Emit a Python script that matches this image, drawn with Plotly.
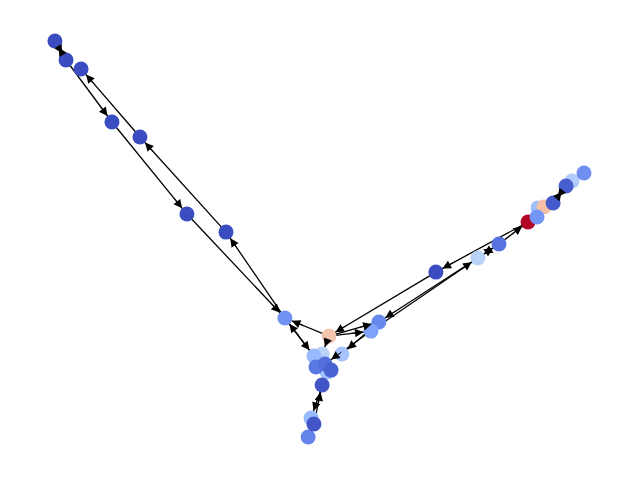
import math
import plotly.graph_objects as go

# node layout (drawing order: later nodes sit on top)
names = ["A", "B", "C", "D", "E", "F", "G", "H", "P", "Q", "R", "S",
         "T2", "T", "X", "U", "V", "W", "Y", "AB", "Z", "AA",
         "K", "L", "M", "N", "O2", "PE", "O", "P2", "R2", "Q2", "S2"]
x_pos = [-1.004, -0.962, -0.905, -0.788, -0.682, -0.504, -0.356, -0.133, 0.034, 0.223, 0.193, 0.083,
         0.008, -0.023, 0.027, -0.015, 0.019, 0.042, 0.008, -0.045, -0.034, -0.023,
         0.439, 0.598, 0.678, 0.788, 0.826, 0.848, 0.822, 0.883, 0.955, 0.932, 1.000]
y_pos = [1.005, 0.909, 0.864, 0.596, 0.520, 0.131, 0.040, -0.394, -0.485, -0.414, -0.460, -0.576,
         -0.576, -0.586, -0.667, -0.641, -0.626, -0.657, -0.732, -0.995, -0.899, -0.929,
         -0.162, -0.091, -0.020, 0.091, 0.162, 0.167, 0.116, 0.187, 0.298, 0.273, 0.338]
node_value = [0.0, 0.0, 0.0, 0.0, 0.0, 0.0, 0.0, 0.17, 0.62, 0.14, 0.21, 0.32,
              0.38, 0.28, 0.30, 0.10, 0.08, 0.05, 0.02, 0.13, 0.28, 0.02,
              0.0, 0.38, 0.09, 1.0, 0.30, 0.64, 0.18, 0.03, 0.35, 0.04, 0.16]

edges = [("B", "A"), ("A", "B"), ("B", "D"), ("D", "F"), ("F", "H"), ("H", "G"),
         ("G", "E"), ("E", "C"), ("H", "T"), ("T", "H"), ("P", "H"), ("P", "T2"),
         ("P", "Q"), ("P", "R"), ("K", "P"), ("N", "K"), ("R", "L"), ("L", "Q"),
         ("L", "M"), ("M", "L"), ("M", "N"), ("R", "V"), ("Q", "S"), ("X", "Z"),
         ("AA", "Y"), ("N", "O"), ("P2", "Q2"), ("Q2", "P2"), ("PE", "P2")]

coolwarm = [[0.0, "#3b4cc0"], [0.0625, "#4d68d7"], [0.125, "#6282ea"], [0.1875, "#779af7"],
            [0.25, "#8db0fe"], [0.3125, "#a3c2fe"], [0.375, "#b8d0f9"], [0.4375, "#ccd9ee"],
            [0.5, "#dddddd"], [0.5625, "#ecd3c5"], [0.625, "#f5c4ad"], [0.6875, "#f7ae91"],
            [0.75, "#f49776"], [0.8125, "#eb7d5e"], [0.875, "#dc5f4b"], [0.9375, "#c93d39"],
            [1.0, "#b40426"]]

W, H = 640, 480
RNG = 1.2121
sx = W / (2 * RNG)
sy = H / (2 * RNG)
# page body has an 8px margin, pull the drawing back by that much
xr = [-RNG + 8 / sx, RNG + 8 / sx]
yr = [-RNG - 8 / sy, RNG - 8 / sy]
idx = {n: i for i, n in enumerate(names)}

ex, ey = [], []
for s, t in edges:
    ex += [x_pos[idx[s]], x_pos[idx[t]], None]
    ey += [y_pos[idx[s]], y_pos[idx[t]], None]

fig = go.Figure()
fig.add_trace(go.Scatter(x=ex, y=ey, mode="lines", line=dict(color="black", width=1.3),
                         hoverinfo="skip"))
fig.add_trace(go.Scatter(x=x_pos, y=y_pos, mode="markers", text=names,
                         marker=dict(size=15, color=node_value, colorscale=coolwarm,
                                     cmin=0, cmax=1, line=dict(width=0))))

# arrowheads only (short annotations along each edge)
for s, t in edges:
    dx = (x_pos[idx[t]] - x_pos[idx[s]]) * sx
    dy = -(y_pos[idx[t]] - y_pos[idx[s]]) * sy
    L = math.hypot(dx, dy)
    tl = max(min(22, L - 7), 10)
    fig.add_annotation(x=x_pos[idx[t]], y=y_pos[idx[t]], ax=-dx / L * tl, ay=-dy / L * tl,
                       text="", showarrow=True, arrowhead=2, arrowsize=1.7,
                       arrowwidth=1, arrowcolor="black", standoff=7.5)

fig.update_layout(width=W, height=H, margin=dict(l=0, r=0, t=0, b=0),
                  plot_bgcolor="white", paper_bgcolor="white", showlegend=False)
fig.update_xaxes(range=xr, visible=False)
fig.update_yaxes(range=yr, visible=False)
fig.write_html("out.html")
